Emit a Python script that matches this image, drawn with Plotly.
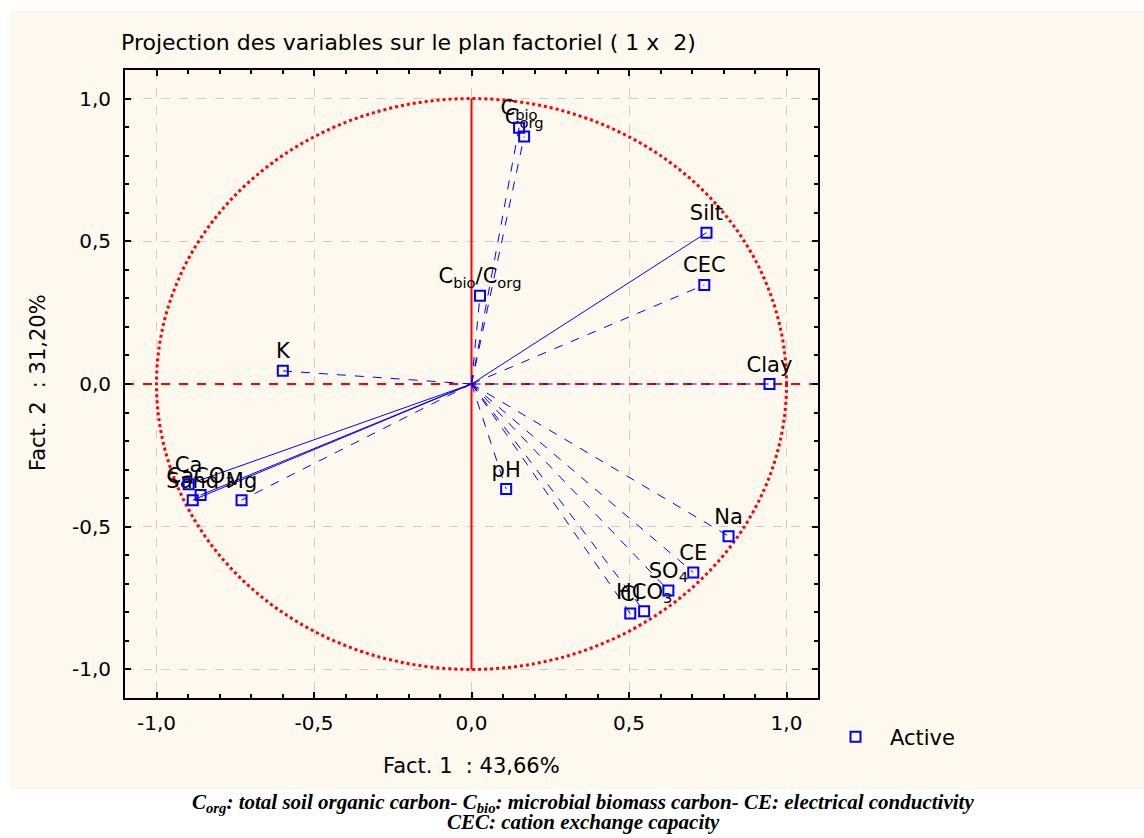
import plotly.graph_objects as go

# ---- data ----
variables = ["Cbio", "Corg", "Silt", "CEC", "Cbio/Corg", "K", "Clay", "pH", "Na",
             "CE", "SO4", "HCO3", "Cl", "Ca", "CaCO3", "Sand", "Mg"]
labels = ["C<sub>bio</sub>", "C<sub>org</sub>", "Silt", "CEC",
          "C<sub>bio</sub>/C<sub>org</sub>", "K", "Clay", "pH", "Na", "CE",
          "SO<sub>4</sub>", "HCO<sub>3</sub>", "Cl", "Ca", "CaCO<sub>3</sub>", "Sand", "Mg"]
fact1 = [0.151, 0.167, 0.746, 0.739, 0.027, -0.599, 0.946, 0.110, 0.816,
         0.704, 0.625, 0.548, 0.504, -0.898, -0.860, -0.885, -0.730]
fact2 = [0.898, 0.867, 0.530, 0.347, 0.309, 0.046, 0.000, -0.368, -0.533,
         -0.660, -0.723, -0.796, -0.804, -0.351, -0.389, -0.407, -0.407]
tick_vals = [-1.0, -0.5, 0.0, 0.5, 1.0]
tick_text = ["-1,0", "-0,5", "0,0", "0,5", "1,0"]

title_text = "Projection des variables sur le plan factoriel ( 1 x  2)"
xtitle_text = "Fact. 1  : 43,66%"
ytitle_text = "Fact. 2  : 31,20%"
caption1 = ("C<sub>org</sub>: total soil organic carbon- C<sub>bio</sub>: microbial biomass "
            "carbon- CE: electrical conductivity")
caption2 = "CEC: cation exchange capacity"

# ---- styling (kept separate from data) ----
solid_vectors = {"Silt", "Ca", "CaCO3", "Sand"}
FONT = "DejaVu Sans"
BLUE = "#0000ff"
RED = "#ff0000"

W, H = 1144, 838
L, R, T, B = 125, 818, 70, 698


def px(x):
    return (x - L) / (R - L)


def py(y):
    return (B - y) / (B - T)


fig = go.Figure()

# vectors from origin
for style in ("dash", "solid"):
    xs, ys = [], []
    for v, a, b in zip(variables, fact1, fact2):
        is_solid = v in solid_vectors
        if (style == "solid") == is_solid:
            xs += [0, a, None]
            ys += [0, b, None]
    fig.add_trace(go.Scatter(x=xs, y=ys, mode="lines",
                             line=dict(color=BLUE, width=1, dash=style),
                             showlegend=False, hoverinfo="skip"))

# labels
fig.add_trace(go.Scatter(x=fact1, y=fact2, mode="markers+text", text=labels,
                         textposition="top center",
                         textfont=dict(family=FONT, size=21, color="black"),
                         marker=dict(size=10, color="rgba(0,0,0,0)"),
                         showlegend=False, hoverinfo="skip"))

# markers
fig.add_trace(go.Scatter(x=fact1, y=fact2, mode="markers", name="Active",
                         marker=dict(symbol="square-open", size=10, color=BLUE,
                                     line=dict(width=2, color=BLUE)),
                         showlegend=True))

axis_common = dict(
    range=[-1.1, 1.1], tickmode="array", tickvals=tick_vals, ticktext=tick_text,
    ticks="inside", ticklen=6, tickwidth=2, tickcolor="black",
    showline=True, linewidth=2, linecolor="black", mirror="allticks",
    showgrid=True, gridcolor="#cccccc", gridwidth=1, griddash="dash",
    zeroline=False, tickfont=dict(family=FONT, size=20, color="black"),
    minor=dict(tickmode="linear", tick0=0, dtick=0.1, ticks="inside",
               ticklen=4, tickwidth=2, tickcolor="black", showgrid=False),
)
fig.update_xaxes(**axis_common, ticklabelstandoff=6)
fig.update_yaxes(**axis_common, ticklabelstandoff=8)

shapes = [
    # cream panel
    dict(type="rect", xref="paper", yref="paper", x0=px(10), x1=px(1144),
         y0=py(790), y1=py(10), fillcolor="#fef9ee", line=dict(width=0), layer="below"),
    # unit circle
    dict(type="circle", xref="x", yref="y", x0=-1, y0=-1, x1=1, y1=1,
         line=dict(color=RED, width=3, dash="dot"), layer="between"),
    dict(type="line", xref="x", yref="y", x0=0, x1=0, y0=-1, y1=1,
         line=dict(color=RED, width=2), layer="between"),
    dict(type="line", xref="x", yref="y", x0=-1.1, x1=1.1, y0=0, y1=0,
         line=dict(color=RED, width=2, dash="dash"), layer="between"),
]

annotations = [
    dict(text=title_text, x=px(119), y=py(42), xref="paper", yref="paper",
         xanchor="left", yanchor="middle", showarrow=False,
         font=dict(family=FONT, size=22, color="black")),
    dict(text=xtitle_text, x=px(471), y=py(766), xref="paper", yref="paper",
         xanchor="center", yanchor="middle", showarrow=False,
         font=dict(family=FONT, size=21, color="black")),
    dict(text=ytitle_text, x=px(38), y=py(383), xref="paper", yref="paper",
         xanchor="center", yanchor="middle", showarrow=False, textangle=-90,
         font=dict(family=FONT, size=21, color="black")),
    dict(text="<b><i>" + caption1 + "</i></b>", x=px(583), y=py(803), xref="paper",
         yref="paper", xanchor="center", yanchor="middle", showarrow=False,
         font=dict(family="Liberation Serif", size=21, color="black")),
    dict(text="<b><i>" + caption2 + "</i></b>", x=px(583), y=py(822), xref="paper",
         yref="paper", xanchor="center", yanchor="middle", showarrow=False,
         font=dict(family="Liberation Serif", size=21, color="black")),
]

fig.update_layout(
    width=W, height=H, margin=dict(l=L, r=W - R, t=T, b=H - B, pad=0),
    paper_bgcolor="white", plot_bgcolor="white",
    shapes=shapes, annotations=annotations,
    legend=dict(x=px(821), y=py(737), xanchor="left", yanchor="middle", itemwidth=59,
                bgcolor="rgba(0,0,0,0)", font=dict(family=FONT, size=21, color="black")),
    showlegend=True,
)

fig.write_html("out.html", config={"displayModeBar": False},
               post_script="document.body.style.margin='0';document.body.style.overflow='hidden';")
